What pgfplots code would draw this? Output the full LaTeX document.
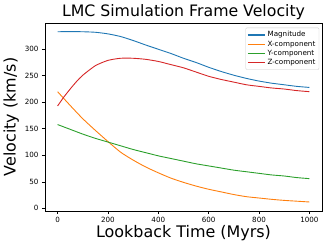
\documentclass[border=0pt]{standalone}
\usepackage{pgfplots}
\pgfplotsset{compat=1.18}
\usepackage{fontspec}
\setmainfont{DejaVu Sans}
\definecolor{c0}{HTML}{1F77B4}
\definecolor{c1}{HTML}{FF7F0E}
\definecolor{c2}{HTML}{2CA02C}
\definecolor{c3}{HTML}{D62728}
\begin{document}
\begin{tikzpicture}
\begin{axis}[
  at={(0,0)}, anchor=south west,
  width=277bp, height=188bp, scale only axis,
  xmin=-50, xmax=1050, ymin=-5, ymax=349.5,
  xtick={0,200,400,600,800,1000},
  ytick={0,50,100,150,200,250,300},
  tick align=outside, tick pos=left,
  major tick length=3bp,
  /pgf/number format/assume math mode=true,
  /pgf/number format/set thousands separator={},
  tick label style={font=\fontsize{7.2}{8}\selectfont},
  axis line style={line width=0.6bp},
  every tick/.style={black, line width=0.6bp},
  title={LMC Simulation Frame Velocity},
  title style={font=\fontsize{15.8}{17}\selectfont, yshift=-6bp},
  xlabel={Lookback Time (Myrs)},
  ylabel={Velocity (km/s)},
  xlabel style={font=\fontsize{16}{18}\selectfont, yshift=4bp},
  ylabel style={font=\fontsize{16}{18}\selectfont, yshift=-1bp},
  legend style={at={(rel axis cs:0.99,0.975)}, anchor=north east,
    font=\fontsize{7.2}{8}\selectfont, draw=black!20, rounded corners=1bp,
    inner sep=1.5bp, row sep=-1.5bp},
  legend cell align=left,
  legend image post style={line width=1.3bp},
  every axis plot/.append style={line width=0.9bp, smooth, tension=0.4},
]
\addplot[c0] coordinates {(0,333) (50,333.3) (100,333) (150,332) (200,329) (250,324) (300,316.5) (350,308) (400,300) (450,292) (500,283) (550,275) (600,266) (650,258) (700,251) (750,245) (800,240) (850,236) (900,233) (950,230) (1000,228)};
\addlegendentry{Magnitude}
\addplot[c1] coordinates {(0,220) (50,194) (100,169) (150,147) (200,126) (250,106) (300,91) (350,78) (400,67) (450,57) (500,49) (550,42) (600,36) (650,31) (700,26) (750,22) (800,19.5) (850,17) (900,15) (950,13.5) (1000,12)};
\addlegendentry{X-component}
\addplot[c2] coordinates {(0,158) (50,149) (100,140) (150,132) (200,125) (250,118) (300,111) (350,105) (400,99) (450,94) (500,89) (550,84) (600,80) (650,76) (700,72) (750,69) (800,66) (850,63) (900,61) (950,58) (1000,56)};
\addlegendentry{Y-component}
\addplot[c3] coordinates {(0,193) (25,210) (50,225) (75,239) (100,251) (150,269) (200,279) (250,283) (300,283) (350,281) (400,277) (450,271) (500,265) (550,257) (600,249) (650,243) (700,238) (750,233) (800,230) (850,227) (900,225) (950,222) (1000,220)};
\addlegendentry{Z-component}
\end{axis}
\path[use as bounding box] (-45bp,-38bp) rectangle (287bp,211bp);
\end{tikzpicture}
\end{document}
